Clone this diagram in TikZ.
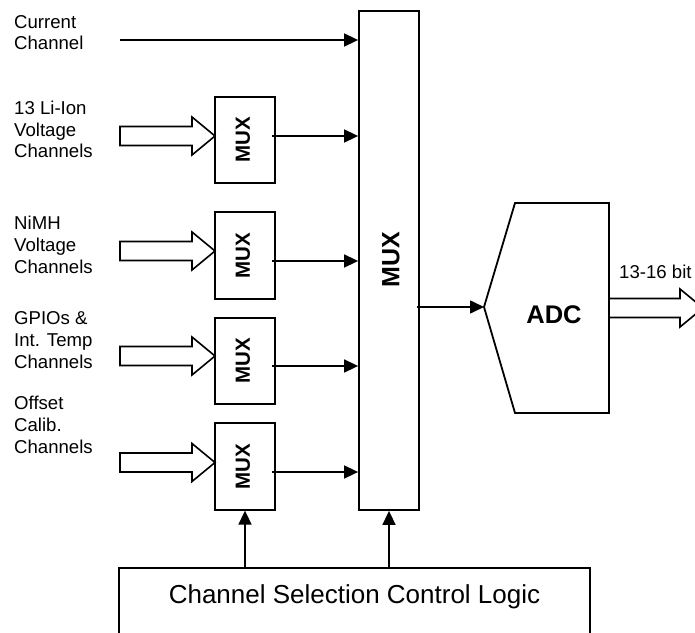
\documentclass[tikz,border=0pt]{standalone}
\usepackage{fontspec}
\setmainfont{Liberation Sans}
\usetikzlibrary{arrows.meta}
\tikzset{
  box/.style={draw, line width=1.8bp, fill=white, inner sep=0pt},
  smux/.style={box, minimum width=60bp, minimum height=86.5bp},
  arr/.style={line width=1.6bp, -{Triangle[length=14bp,width=13bp]}},
  hollow/.style={draw, line width=1.6bp, fill=white, line join=miter},
  lbl/.style={anchor=base west, align=left, inner sep=0pt, font=\fontsize{18.6bp}{21.6bp}\selectfont},
  muxtxt/.style={font=\fontsize{20.5bp}{24bp}\selectfont\bfseries, rotate=90}
}
\newcommand\hollowarr[2]{% tip coordinate, shaft length (negative)
  \draw[hollow] (#1) -- ++(-23,-19) -- ++(0,9.5) -- ++(#2,0) -- ++(0,19) -- ++(-#2,0) -- ++(0,9.5) -- cycle;}
\begin{document}
\begin{tikzpicture}[x=1bp, y=-1bp]
\clip (0,0) rectangle (695,633);
\fill[white] (0,0) rectangle (695,633);

% big MUX
\node[box, minimum width=60bp, minimum height=499bp] (bigmux) at (389,260.5) {};
\node[font=\fontsize{25bp}{30bp}\selectfont\bfseries, rotate=90] (bigmuxt) at (391,260) {MUX};

% small MUXes
\node[smux] (m1) at (245,140) {};
\node[smux] (m2) at (245,255.5) {};
\node[smux] (m3) at (245,361) {};
\node[smux] (m4) at (245,466.5) {};
\node[muxtxt] (m1t) at (243,140) {MUX};
\node[muxtxt] (m2t) at (243,255.5) {MUX};
\node[muxtxt] (m3t) at (243,361) {MUX};
\node[muxtxt] (m4t) at (243,466.5) {MUX};

% labels (anchor is baseline of last line)
\node[lbl] (l0) at (14,50) {Current\\Channel};
\node[lbl] (l1) at (14,158) {13 Li-Ion\\Voltage\\Channels};
\node[lbl] (l2) at (14,273) {NiMH\\Voltage\\Channels};
\node[lbl] (l3) at (14,368) {GPIOs \&\\Int. Temp\\Channels};
\node[lbl] (l4) at (14,453) {Offset\\Calib.\\Channels};

% current channel
\coordinate (cur) at (120,40);
\draw[arr] (cur) -- (cur -| bigmux.west);

% hollow input arrows
\coordinate (t1) at (215,136);
\coordinate (t2) at (215,251);
\coordinate (t3) at (215,356);
\coordinate (t4) at (215,462.5);
\hollowarr{t1}{-72}
\hollowarr{t2}{-72}
\hollowarr{t3}{-72}
\hollowarr{t4}{-72}

% small MUX outputs
\coordinate (o1) at (272,136);
\coordinate (o2) at (272,261);
\coordinate (o3) at (272,366);
\coordinate (o4) at (272,472);
\draw[arr] (o1) -- (o1 -| bigmux.west);
\draw[arr] (o2) -- (o2 -| bigmux.west);
\draw[arr] (o3) -- (o3 -| bigmux.west);
\draw[arr] (o4) -- (o4 -| bigmux.west);

% ADC
\coordinate (adcin) at (484,307);
\draw[line width=1.8bp, line join=miter] (adcin) -- (515,203) -- (609,203) -- (609,413) -- (515,413) -- cycle;
\node[font=\fontsize{25.5bp}{30bp}\selectfont\bfseries, anchor=base, inner sep=0pt] (adc) at (554,323) {ADC};
\coordinate (mo) at (417,307);
\draw[arr] (mo) -- (adcin);

% output hollow arrow
\coordinate (t5) at (703,308);
\draw[hollow] (t5) -- ++(-23,-19) -- ++(0,9.5) -- (609,298.5) -- (609,317.5) -- ++(71,0) -- ++(0,9.5) -- cycle;
\node[lbl] (bits) at (619,278) {13-16 bit};

% control logic box
\draw[line width=1.8bp] (119,650) -- (119,568) -- (590,568) -- (590,650);
\node[anchor=base, inner sep=0pt, font=\fontsize{26bp}{30bp}\selectfont] (ctrl) at (354.5,603) {Channel Selection Control Logic};
\coordinate (c1) at (245,568);
\coordinate (c2) at (389,568);
\draw[arr] (c1) -- (m4.south);
\draw[arr] (c2) -- (bigmux.south);
\end{tikzpicture}
\end{document}
